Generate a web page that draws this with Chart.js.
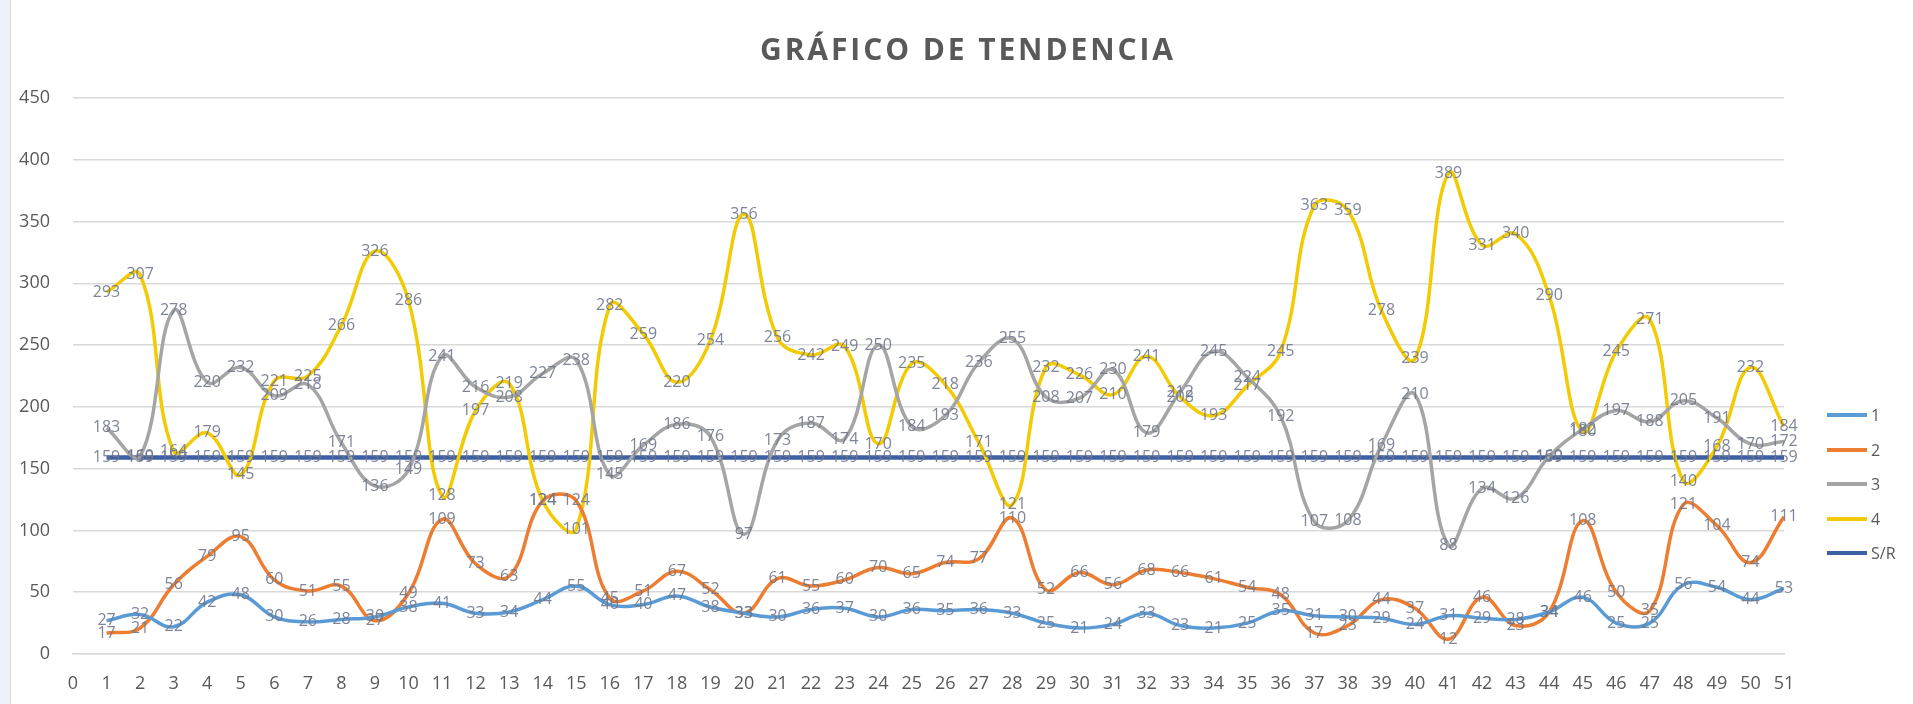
<!DOCTYPE html>
<html>
<head>
<meta charset="utf-8">
<script src="https://cdn.jsdelivr.net/npm/chart.js@4.4.1/dist/chart.umd.min.js"></script>
<style>
  html, body { margin: 0; padding: 0; background: #fff; }
  #caja { position: relative; width: 1913px; height: 704px; }
  #franja { position: absolute; left: 0; top: 0; width: 10px; height: 704px; background: #eef2f8; border-right: 1px solid #d9d9d9; }
  #titulo { position: absolute; left: 668px; width: 600px; top: 29px; text-align: center; font-family: "Open Sans", sans-serif; font-weight: bold; font-size: 30px; line-height: 40px; letter-spacing: 2.9px; color: #595959; white-space: pre; }
  #leyenda { position: absolute; left: 1827px; top: 398px; font-family: "Open Sans", sans-serif; font-size: 16px; color: #595959; }
  .item { height: 34.5px; display: flex; align-items: center; }
  .linea { width: 40px; height: 4px; margin-right: 4px; }
</style>
</head>
<body>
<div id="caja">
  <canvas id="grafico" width="1913" height="704"></canvas>
  <div id="franja"></div>
  <div id="titulo">GRÁFICO DE TENDENCIA</div>
  <div id="leyenda"></div>
</div>
<script>
// datos
const categorias = [1,2,3,4,5,6,7,8,9,10,11,12,13,14,15,16,17,18,19,20,21,22,23,24,25,26,27,28,29,30,31,32,33,34,35,36,37,38,39,40,41,42,43,44,45,46,47,48,49,50,51];
const serie1 = [27,32,22,42,48,30,26,28,30,38,41,33,34,44,55,40,40,47,38,33,30,36,37,30,36,35,36,33,25,21,24,33,23,21,25,35,31,30,29,24,31,29,28,34,46,25,25,56,54,44,53];
const serie2 = [17,21,56,79,95,60,51,55,27,49,109,73,63,124,124,45,51,67,52,33,61,55,60,70,65,74,77,110,52,66,56,68,66,61,54,48,17,23,44,37,12,46,23,34,108,50,35,121,104,74,111];
const serie3 = [183,160,278,220,232,209,218,171,136,149,241,216,208,227,238,145,169,186,176,97,173,187,174,250,184,193,236,255,208,207,230,179,212,245,224,192,107,108,169,210,88,134,126,160,182,197,188,205,191,170,172];
const serie4 = [293,307,164,179,145,221,225,266,326,286,128,197,219,124,101,282,259,220,254,356,256,242,249,170,235,218,171,121,232,226,210,241,208,193,217,245,363,359,278,239,389,331,340,290,180,245,271,140,168,232,184];
const serieSR = [159,159,159,159,159,159,159,159,159,159,159,159,159,159,159,159,159,159,159,159,159,159,159,159,159,159,159,159,159,159,159,159,159,159,159,159,159,159,159,159,159,159,159,159,159,159,159,159,159,159,159];
const nombres = ['1', '2', '3', '4', 'S/R'];
const colores = ['#5b9bd5', '#ed7d31', '#a5a5a5', '#f2cb05', '#3d5fa3'];

const series = [serie1, serie2, serie3, serie4, serieSR];

const conjuntos = series.map((s, i) => ({
  label: nombres[i],
  data: categorias.map((c, j) => ({ x: c, y: s[j] })),
  borderColor: colores[i],
  backgroundColor: colores[i],
  borderWidth: i === 4 ? 4.5 : 3.5,
  pointRadius: 0,
  tension: i === 4 ? 0 : 0.4
}));

// etiquetas de datos encima de cada punto
const etiquetas = {
  id: 'etiquetas',
  afterDatasetsDraw(chart) {
    const ctx = chart.ctx;
    ctx.save();
    ctx.font = '16px "Open Sans", sans-serif';
    ctx.textAlign = 'center';
    ctx.textBaseline = 'middle';
    ctx.fillStyle = 'rgba(112,120,140,0.9)';
    chart.data.datasets.forEach((ds, i) => {
      chart.getDatasetMeta(i).data.forEach((p, j) => {
        ctx.fillText(ds.data[j].y, p.x, p.y);
      });
    });
    ctx.restore();
  }
};

const ctx = document.getElementById('grafico').getContext('2d');
const miGrafico = new Chart(ctx, {
  type: 'line',
  data: { datasets: conjuntos },
  plugins: [etiquetas],
  options: {
    responsive: false,
    animation: false,
    layout: { padding: { left: 0, right: 129, top: 98, bottom: 0 } },
    plugins: {
      legend: { display: false },
      tooltip: { enabled: false }
    },
    scales: {
      x: {
        type: 'linear',
        min: 0,
        max: 51,
        ticks: { stepSize: 1, color: '#595959', padding: 19, maxRotation: 0, autoSkip: false, font: { family: '"Open Sans", sans-serif', size: 18 } },
        grid: { display: false, drawTicks: false },
        border: { color: '#d9d9d9', width: 1.5 },
        afterFit: (escala) => { escala.height = 50; }
      },
      y: {
        min: 0,
        max: 450,
        ticks: { stepSize: 50, color: '#595959', padding: 23, font: { family: '"Open Sans", sans-serif', size: 18 } },
        grid: { color: '#d9d9d9', lineWidth: 1.5, drawTicks: false },
        border: { display: false },
        afterFit: (escala) => { escala.width = 73; }
      }
    }
  }
});

// leyenda a la derecha
const leyenda = document.getElementById('leyenda');
nombres.forEach((n, i) => {
  const fila = document.createElement('div');
  fila.className = 'item';
  fila.innerHTML = '<span class="linea" style="background:' + colores[i] + '"></span>' + n;
  leyenda.appendChild(fila);
});
</script>
</body>
</html>
